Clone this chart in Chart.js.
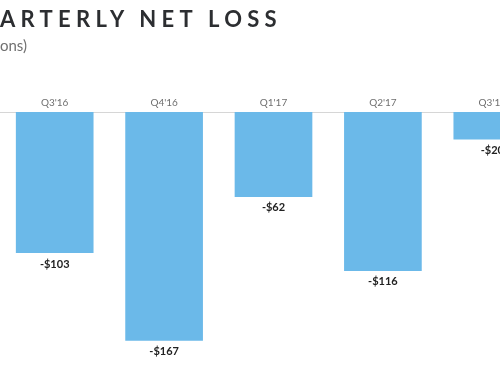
<!DOCTYPE html>
<html>
<head>
<meta charset="utf-8">
<script src="https://cdn.jsdelivr.net/npm/chart.js@4"></script>
<style>
  html, body { margin: 0; padding: 0; width: 500px; height: 375px; overflow: hidden; background: #fff; }
  .title {
    position: absolute; right: 218px; top: 5px; white-space: nowrap;
    font: bold 22px "Lato", "Open Sans", sans-serif; letter-spacing: 5.3px; color: #2c2e31;
  }
  .subtitle {
    position: absolute; right: 473px; top: 36px; white-space: nowrap;
    font: 15px "Lato", "Open Sans", sans-serif; color: #707070;
  }
  .wrap { position: absolute; left: 0; top: 0; width: 547px; height: 375px; }
</style>
</head>
<body>
<div class="wrap"><canvas id="chart"></canvas></div>
<div class="title">QUARTERLY NET LOSS</div>
<div class="subtitle">(in millions)</div>
<script>
// 季度淨虧損 (百萬美元)
const quarters = ["Q3'16", "Q4'16", "Q1'17", "Q2'17", "Q3'17"];
const netLoss = [-103, -167, -62, -116, -20];

const barLabels = {
  id: "barLabels",
  afterDatasetsDraw(chart) {
    const ctx = chart.ctx;
    ctx.save();
    ctx.font = 'bold 11px "Lato", "Open Sans", sans-serif';
    ctx.fillStyle = "#222";
    ctx.textAlign = "center";
    ctx.textBaseline = "middle";
    chart.getDatasetMeta(0).data.forEach((bar, i) => {
      ctx.fillText("-$" + Math.abs(netLoss[i]), bar.x, bar.y + 11);
    });
    ctx.restore();
  }
};

new Chart(document.getElementById("chart"), {
  type: "bar",
  data: {
    labels: quarters,
    datasets: [{
      data: netLoss,
      backgroundColor: "#6bb9e9",
      borderWidth: 0,
      barPercentage: 0.71,
      categoryPercentage: 1
    }]
  },
  options: {
    responsive: true,
    maintainAspectRatio: false,
    animation: false,
    layout: { padding: { top: 94, left: 0, right: 0, bottom: 0 } },
    plugins: { legend: { display: false }, tooltip: { enabled: false } },
    scales: {
      x: {
        position: "top",
        grid: { display: false, drawTicks: false, tickLength: 0 },
        border: { display: true, color: "#d6d6d6", width: 1 },
        ticks: { color: "#6f6f6f", font: { family: "Lato, 'Open Sans', sans-serif", size: 10 }, padding: 3 }
      },
      y: { display: false, min: -192, max: 0 }
    }
  },
  plugins: [barLabels]
});
</script>
</body>
</html>
